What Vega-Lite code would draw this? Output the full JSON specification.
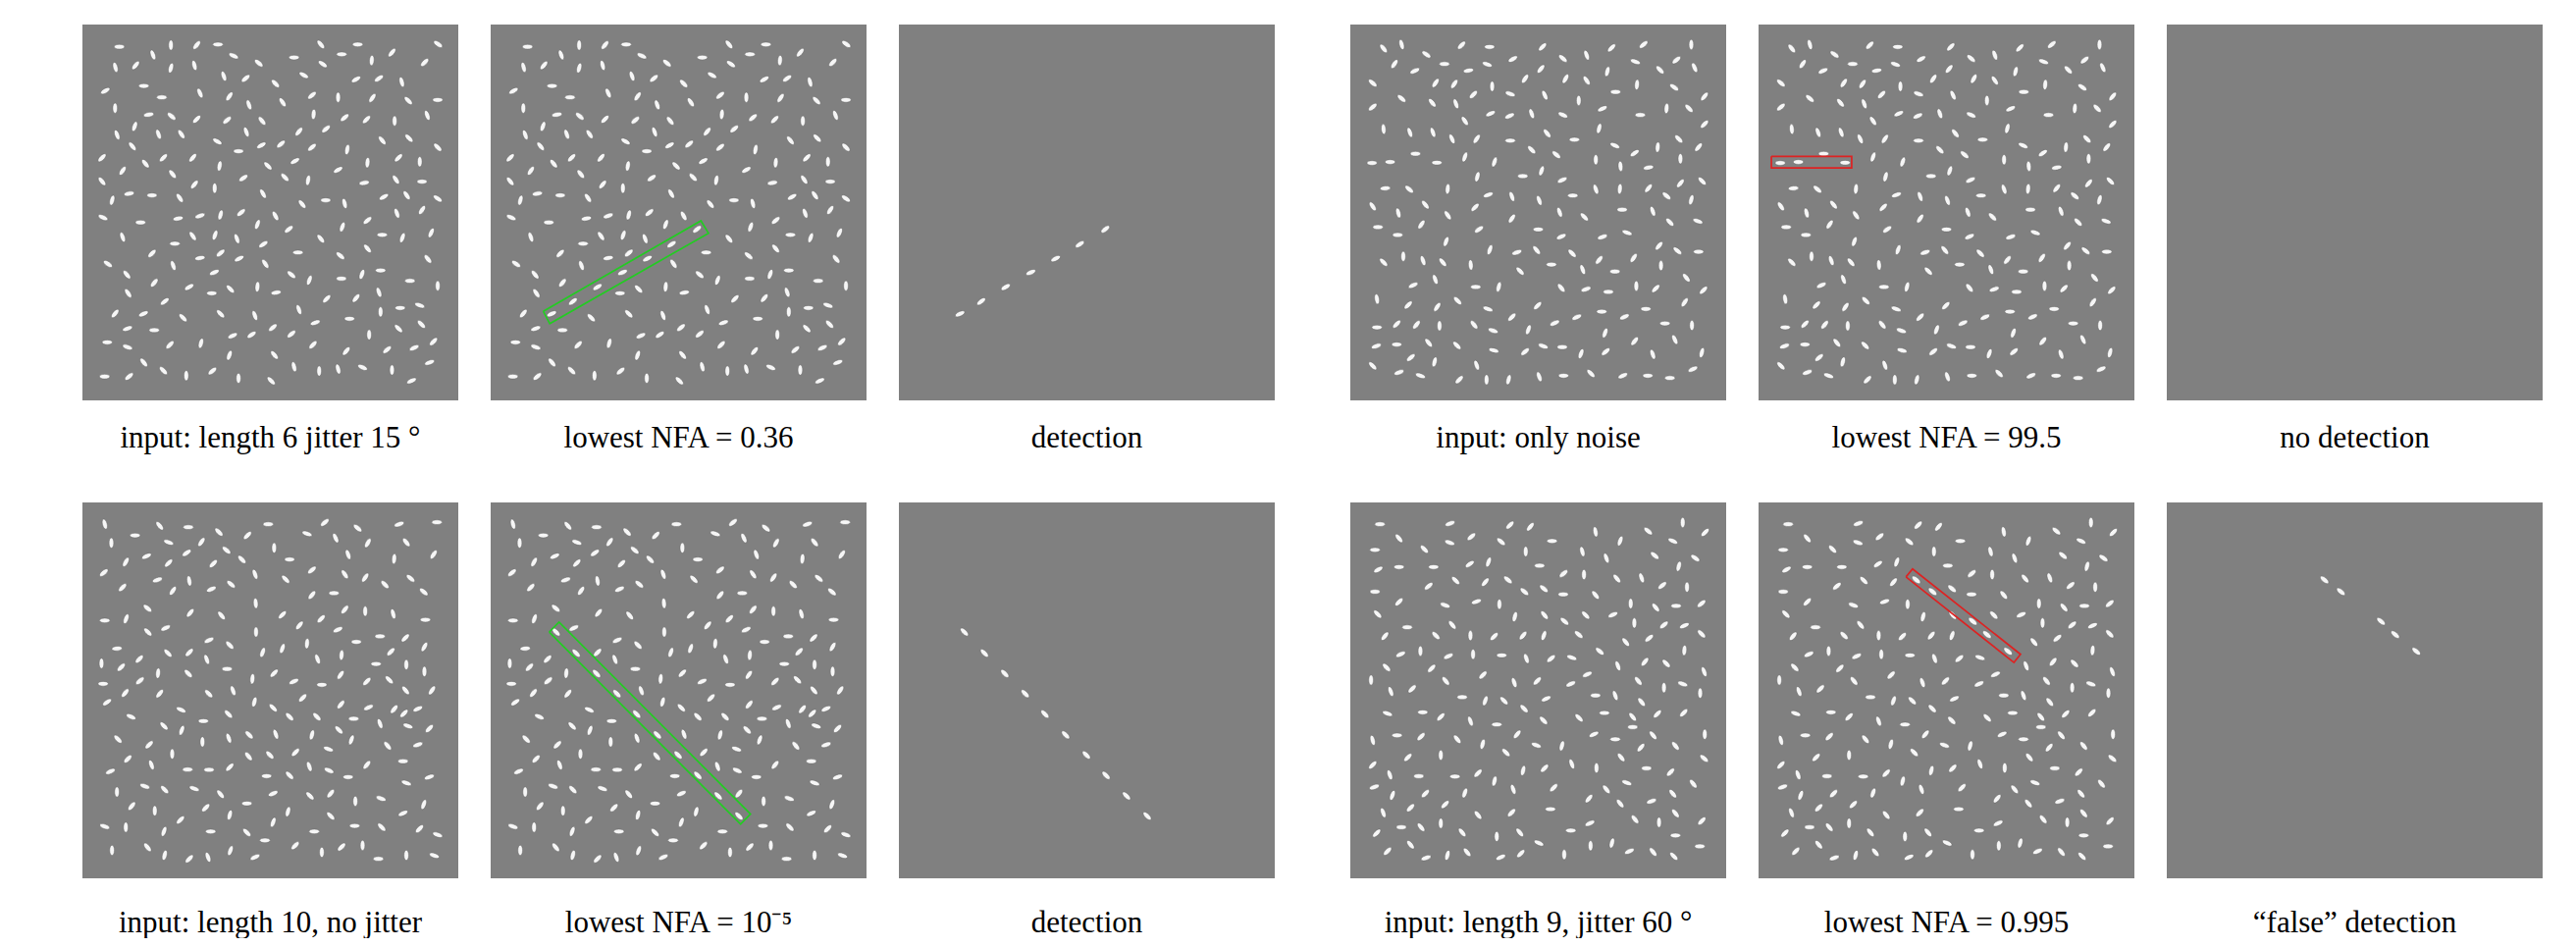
{
  "$schema": "https://vega.github.io/schema/vega-lite/v6.json",
  "padding": {"left": 84, "top": 25, "right": 0, "bottom": 0},
  "background": "white",
  "config": {
    "view": {"stroke": null, "fill": "#808080"},
    "title": {"font": "Liberation Serif", "fontSize": 31, "fontWeight": "normal", "color": "#000000", "orient": "bottom", "anchor": "middle", "baseline": "alphabetic", "offset": 24}
  },
  "datasets": {
    "A": [
      {"x":125,"y":80,"a":90},{"x":283,"y":75,"a":0},{"x":362,"y":75,"a":40},{"x":427,"y":73,"a":90},{"x":742,"y":73,"a":-40},{"x":855,"y":73,"a":90},{"x":1101,"y":72,"a":-55},
      {"x":228,"y":105,"a":-20},{"x":475,"y":108,"a":-65},{"x":660,"y":113,"a":90},{"x":806,"y":103,"a":90},{"x":960,"y":98,"a":40},{"x":898,"y":122,"a":5},
      {"x":113,"y":143,"a":-15},{"x":175,"y":137,"a":40},{"x":283,"y":145,"a":15},{"x":355,"y":137,"a":-15},{"x":552,"y":130,"a":-50},{"x":748,"y":133,"a":-55},{"x":1060,"y":128,"a":45},
      {"x":445,"y":170,"a":-20},{"x":512,"y":177,"a":50},{"x":690,"y":167,"a":-60},{"x":603,"y":193,"a":-45},{"x":850,"y":180,"a":60},{"x":920,"y":177,"a":55},{"x":990,"y":188,"a":-15},{"x":200,"y":200,"a":90},
      {"x":82,"y":215,"a":60},{"x":255,"y":235,"a":90},{"x":372,"y":222,"a":-25},{"x":462,"y":232,"a":35},{"x":522,"y":258,"a":-20},{"x":625,"y":250,"a":-35},{"x":715,"y":229,"a":50},{"x":795,"y":235,"a":0},{"x":900,"y":237,"a":35},{"x":1010,"y":245,"a":-45},{"x":1100,"y":243,"a":90},
      {"x":112,"y":268,"a":0},{"x":215,"y":288,"a":80},{"x":285,"y":293,"a":-50},{"x":362,"y":302,"a":45},{"x":455,"y":305,"a":50},{"x":562,"y":307,"a":-40},{"x":720,"y":287,"a":5},{"x":815,"y":297,"a":50},{"x":882,"y":303,"a":45},{"x":968,"y":307,"a":0},{"x":1068,"y":290,"a":-20},
      {"x":172,"y":324,"a":20},{"x":118,"y":350,"a":-20},{"x":245,"y":348,"a":-20},{"x":315,"y":348,"a":-35},{"x":514,"y":341,"a":-20},{"x":675,"y":340,"a":40},{"x":758,"y":332,"a":50},{"x":930,"y":367,"a":-40},{"x":1012,"y":360,"a":-45},
      {"x":165,"y":385,"a":-40},{"x":425,"y":370,"a":-60},{"x":490,"y":400,"a":90},{"x":560,"y":382,"a":60},{"x":620,"y":378,"a":50},{"x":715,"y":388,"a":50},{"x":823,"y":395,"a":10},{"x":1100,"y":388,"a":-45},
      {"x":72,"y":420,"a":45},{"x":205,"y":438,"a":-40},{"x":260,"y":420,"a":45},{"x":350,"y":420,"a":40},{"x":432,"y":445,"a":10},{"x":580,"y":445,"a":-45},{"x":663,"y":430,"a":60},{"x":885,"y":435,"a":5},{"x":980,"y":420,"a":45},{"x":1045,"y":432,"a":0},{"x":135,"y":460,"a":35},{"x":288,"y":470,"a":-40},{"x":795,"y":457,"a":60},
      {"x":72,"y":492,"a":-40},{"x":505,"y":482,"a":55},{"x":632,"y":480,"a":-45},{"x":703,"y":489,"a":10},{"x":875,"y":497,"a":80},{"x":972,"y":487,"a":-35},{"x":1052,"y":493,"a":90},{"x":355,"y":502,"a":40},{"x":417,"y":513,"a":0},
      {"x":155,"y":530,"a":80},{"x":225,"y":535,"a":90},{"x":103,"y":550,"a":15},{"x":310,"y":543,"a":-35},{"x":565,"y":530,"a":-30},{"x":685,"y":562,"a":-40},{"x":757,"y":550,"a":90},{"x":815,"y":560,"a":-15},{"x":935,"y":540,"a":60},{"x":1005,"y":535,"a":-35},{"x":1100,"y":545,"a":-55},
      {"x":75,"y":603,"a":-65},{"x":190,"y":618,"a":90},{"x":305,"y":606,"a":80},{"x":372,"y":598,"a":70},{"x":435,"y":595,"a":15},{"x":498,"y":588,"a":50},{"x":548,"y":624,"a":20},{"x":603,"y":598,"a":-30},{"x":975,"y":590,"a":-20},{"x":1052,"y":580,"a":35},{"x":885,"y":612,"a":50},{"x":808,"y":632,"a":20},
      {"x":135,"y":663,"a":-20},{"x":295,"y":683,"a":90},{"x":350,"y":660,"a":-35},{"x":418,"y":657,"a":20},{"x":485,"y":668,"a":-20},{"x":742,"y":668,"a":-40},{"x":930,"y":656,"a":90},{"x":992,"y":665,"a":20},{"x":1080,"y":650,"a":25},{"x":885,"y":698,"a":-40},
      {"x":225,"y":713,"a":45},{"x":90,"y":745,"a":-55},{"x":372,"y":727,"a":80},{"x":435,"y":712,"a":50},{"x":572,"y":745,"a":-35},{"x":672,"y":710,"a":90},{"x":802,"y":720,"a":-50},{"x":1070,"y":730,"a":-40},{"x":290,"y":750,"a":-20},
      {"x":148,"y":778,"a":-40},{"x":232,"y":803,"a":40},{"x":652,"y":778,"a":-50},{"x":707,"y":795,"a":20},{"x":805,"y":790,"a":90},{"x":868,"y":777,"a":20},{"x":925,"y":765,"a":90},{"x":1015,"y":797,"a":90},{"x":1100,"y":812,"a":0},
      {"x":152,"y":835,"a":-35},{"x":408,"y":835,"a":90},{"x":465,"y":822,"a":-45},{"x":548,"y":815,"a":5},{"x":605,"y":833,"a":80},{"x":760,"y":852,"a":45},{"x":850,"y":850,"a":40},{"x":920,"y":832,"a":-20},
      {"x":112,"y":897,"a":40},{"x":320,"y":910,"a":-45},{"x":435,"y":898,"a":-45},{"x":540,"y":903,"a":-20},{"x":675,"y":885,"a":-20},{"x":725,"y":925,"a":70},{"x":830,"y":913,"a":90},{"x":925,"y":892,"a":0},{"x":985,"y":880,"a":90},{"x":1045,"y":872,"a":-70},
      {"x":150,"y":943,"a":70},{"x":232,"y":948,"a":90},{"x":472,"y":965,"a":65},{"x":530,"y":962,"a":55},{"x":595,"y":940,"a":50},{"x":652,"y":960,"a":50},{"x":890,"y":962,"a":0},{"x":980,"y":943,"a":-45},{"x":1050,"y":930,"a":-45},
      {"x":88,"y":985,"a":90},{"x":150,"y":1000,"a":-70},{"x":280,"y":993,"a":45},{"x":375,"y":988,"a":15},{"x":718,"y":993,"a":45},{"x":600,"y":1024,"a":-40},{"x":820,"y":1012,"a":40},{"x":945,"y":1008,"a":50},{"x":1028,"y":1002,"a":65},{"x":1087,"y":983,"a":45},{"x":462,"y":1025,"a":20},
      {"x":200,"y":1047,"a":-40},{"x":260,"y":1072,"a":-45},{"x":330,"y":1087,"a":0},{"x":410,"y":1073,"a":50},{"x":490,"y":1095,"a":0},{"x":590,"y":1103,"a":-45},{"x":660,"y":1060,"a":-15},{"x":737,"y":1073,"a":0},{"x":795,"y":1067,"a":-15},{"x":870,"y":1062,"a":-65},{"x":960,"y":1070,"a":0},{"x":1075,"y":1047,"a":70},{"x":1020,"y":1103,"a":65},{"x":155,"y":1090,"a":50},{"x":80,"y":1090,"a":90},
      {"x":199,"y":898,"a":65,"on":1},{"x":264,"y":860,"a":52,"on":1},{"x":339,"y":816,"a":58,"on":1},{"x":416,"y":771,"a":66,"on":1},{"x":492,"y":729,"a":62,"on":1},{"x":566,"y":685,"a":56,"on":1},{"x":644,"y":639,"a":52,"on":1}
    ],
    "B": [
      {"x":125,"y":90,"a":-40},{"x":180,"y":78,"a":-15},{"x":362,"y":80,"a":45},{"x":447,"y":85,"a":90},{"x":608,"y":85,"a":45},{"x":742,"y":110,"a":-20},{"x":818,"y":88,"a":45},{"x":915,"y":78,"a":50},{"x":1060,"y":78,"a":0},
      {"x":255,"y":108,"a":-55},{"x":158,"y":137,"a":35},{"x":220,"y":158,"a":65},{"x":310,"y":137,"a":90},{"x":383,"y":157,"a":80},{"x":440,"y":138,"a":-70},{"x":518,"y":122,"a":60},{"x":603,"y":152,"a":40},{"x":670,"y":120,"a":-50},{"x":805,"y":160,"a":15},{"x":890,"y":130,"a":-70},{"x":965,"y":155,"a":-45},{"x":1015,"y":125,"a":50},{"x":1070,"y":148,"a":-25},
      {"x":92,"y":195,"a":-50},{"x":283,"y":195,"a":35},{"x":340,"y":198,"a":35},{"x":455,"y":205,"a":0},{"x":555,"y":182,"a":35},{"x":678,"y":182,"a":30},{"x":742,"y":187,"a":-35},{"x":895,"y":200,"a":5},{"x":1008,"y":208,"a":-55},{"x":830,"y":222,"a":90},{"x":180,"y":242,"a":-50},{"x":273,"y":255,"a":-40},{"x":345,"y":258,"a":-20},{"x":398,"y":230,"a":45},{"x":510,"y":228,"a":-70},{"x":615,"y":232,"a":-25},{"x":718,"y":248,"a":0},{"x":1100,"y":236,"a":40},
      {"x":92,"y":268,"a":50},{"x":450,"y":288,"a":65},{"x":508,"y":295,"a":65},{"x":575,"y":288,"a":-20},{"x":670,"y":292,"a":-65},{"x":790,"y":273,"a":65},{"x":905,"y":292,"a":90},{"x":985,"y":272,"a":5},{"x":1053,"y":272,"a":-45},
      {"x":372,"y":310,"a":-35},{"x":125,"y":335,"a":-5},{"x":205,"y":345,"a":-20},{"x":275,"y":345,"a":-20},{"x":333,"y":365,"a":-25},{"x":408,"y":365,"a":35},{"x":510,"y":370,"a":90},{"x":622,"y":348,"a":-40},{"x":705,"y":367,"a":90},{"x":780,"y":333,"a":15},{"x":1100,"y":320,"a":45},{"x":1022,"y":365,"a":-45},
      {"x":222,"y":410,"a":90},{"x":575,"y":398,"a":-45},{"x":650,"y":413,"a":-50},{"x":828,"y":385,"a":-65},{"x":888,"y":408,"a":55},{"x":958,"y":390,"a":5},{"x":1082,"y":390,"a":40},{"x":372,"y":420,"a":20},{"x":462,"y":435,"a":20},{"x":770,"y":428,"a":0},{"x":845,"y":448,"a":-5},{"x":1027,"y":425,"a":0},{"x":930,"y":452,"a":80},
      {"x":90,"y":438,"a":90},{"x":145,"y":435,"a":90},{"x":287,"y":437,"a":90},
      {"x":410,"y":480,"a":15},{"x":548,"y":478,"a":90},{"x":605,"y":462,"a":20},{"x":668,"y":490,"a":65},{"x":130,"y":515,"a":85},{"x":203,"y":518,"a":-50},{"x":320,"y":517,"a":5},{"x":443,"y":535,"a":70},{"x":515,"y":540,"a":-20},{"x":598,"y":552,"a":-20},{"x":700,"y":537,"a":90},{"x":770,"y":518,"a":-20},{"x":843,"y":517,"a":5},{"x":930,"y":515,"a":40},{"x":985,"y":538,"a":-50},{"x":1027,"y":500,"a":40},{"x":1093,"y":493,"a":-45},
      {"x":92,"y":570,"a":-35},{"x":170,"y":590,"a":-15},{"x":252,"y":565,"a":-40},{"x":320,"y":597,"a":-35},{"x":403,"y":573,"a":45},{"x":515,"y":607,"a":35},{"x":660,"y":588,"a":-20},{"x":735,"y":602,"a":-45},{"x":850,"y":580,"a":90},{"x":943,"y":585,"a":-20},{"x":1060,"y":550,"a":15},{"x":108,"y":633,"a":90},{"x":240,"y":625,"a":35},{"x":415,"y":640,"a":55},{"x":595,"y":640,"a":90},{"x":995,"y":618,"a":-45},{"x":1080,"y":615,"a":-70},
      {"x":168,"y":657,"a":90},{"x":315,"y":677,"a":20},{"x":665,"y":662,"a":65},{"x":790,"y":663,"a":70},{"x":865,"y":650,"a":-70},{"x":962,"y":690,"a":40},{"x":448,"y":702,"a":20},{"x":530,"y":710,"a":70},{"x":590,"y":703,"a":-40},{"x":698,"y":713,"a":-45},{"x":1018,"y":705,"a":-50},{"x":1082,"y":708,"a":90},
      {"x":125,"y":740,"a":-45},{"x":185,"y":722,"a":0},{"x":245,"y":735,"a":-20},{"x":305,"y":740,"a":-40},{"x":390,"y":748,"a":-5},{"x":540,"y":767,"a":-45},{"x":635,"y":747,"a":90},{"x":730,"y":762,"a":-20},{"x":780,"y":733,"a":40},{"x":828,"y":768,"a":90},{"x":885,"y":727,"a":35},{"x":968,"y":750,"a":0},
      {"x":215,"y":810,"a":65},{"x":282,"y":792,"a":-20},{"x":405,"y":815,"a":90},{"x":475,"y":815,"a":15},{"x":665,"y":818,"a":-40},{"x":740,"y":822,"a":70},{"x":808,"y":830,"a":90},{"x":893,"y":812,"a":0},{"x":952,"y":820,"a":45},{"x":1045,"y":787,"a":-40},{"x":1097,"y":825,"a":45},{"x":105,"y":852,"a":-10},
      {"x":200,"y":870,"a":45},{"x":288,"y":876,"a":35},{"x":350,"y":857,"a":-45},{"x":442,"y":882,"a":-70},{"x":515,"y":907,"a":45},{"x":593,"y":872,"a":45},{"x":712,"y":907,"a":65},{"x":788,"y":890,"a":90},{"x":857,"y":906,"a":65},{"x":922,"y":882,"a":90},{"x":1040,"y":862,"a":35},
      {"x":105,"y":938,"a":90},{"x":165,"y":928,"a":45},{"x":225,"y":930,"a":40},{"x":295,"y":933,"a":0},{"x":400,"y":930,"a":-40},{"x":458,"y":948,"a":-70},{"x":565,"y":945,"a":20},{"x":645,"y":925,"a":65},{"x":798,"y":955,"a":20},{"x":980,"y":926,"a":90},{"x":1062,"y":932,"a":0},
      {"x":103,"y":995,"a":70},{"x":165,"y":990,"a":90},{"x":262,"y":985,"a":-40},{"x":348,"y":993,"a":-45},{"x":460,"y":1008,"a":-75},{"x":555,"y":1012,"a":50},{"x":610,"y":995,"a":-70},{"x":668,"y":998,"a":90},{"x":725,"y":1018,"a":20},{"x":800,"y":1012,"a":50},{"x":888,"y":980,"a":40},{"x":1010,"y":975,"a":-25},{"x":943,"y":1020,"a":-20},{"x":1092,"y":1015,"a":15},{"x":208,"y":1030,"a":50},{"x":280,"y":1043,"a":15},
      {"x":92,"y":1055,"a":-45},{"x":172,"y":1075,"a":70},{"x":237,"y":1085,"a":-70},{"x":355,"y":1097,"a":45},{"x":408,"y":1053,"a":-20},{"x":438,"y":1097,"a":0},{"x":505,"y":1097,"a":15},{"x":598,"y":1088,"a":-20},{"x":672,"y":1085,"a":90},{"x":755,"y":1078,"a":-45},{"x":852,"y":1085,"a":65},{"x":928,"y":1085,"a":90},{"x":995,"y":1092,"a":90},{"x":1065,"y":1065,"a":65}
    ],
    "C": [
      {"x":88,"y":93,"a":-15},{"x":180,"y":127,"a":90},{"x":255,"y":98,"a":-40},{"x":342,"y":102,"a":90},{"x":435,"y":117,"a":-45},{"x":522,"y":127,"a":45},{"x":585,"y":93,"a":90},{"x":703,"y":122,"a":-70},{"x":757,"y":88,"a":50},{"x":790,"y":135,"a":-25},{"x":857,"y":105,"a":-50},{"x":983,"y":93,"a":70},{"x":1098,"y":87,"a":90},{"x":108,"y":150,"a":0},{"x":282,"y":148,"a":-70},{"x":382,"y":147,"a":35},{"x":458,"y":172,"a":-50},{"x":603,"y":165,"a":0},{"x":650,"y":200,"a":90},{"x":888,"y":150,"a":30},{"x":1005,"y":148,"a":-40},
      {"x":152,"y":208,"a":30},{"x":215,"y":190,"a":65},{"x":282,"y":211,"a":45},{"x":337,"y":180,"a":55},{"x":418,"y":213,"a":45},{"x":505,"y":200,"a":-45},{"x":828,"y":185,"a":-20},{"x":968,"y":198,"a":5},{"x":1088,"y":185,"a":35},{"x":85,"y":240,"a":50},{"x":248,"y":262,"a":70},{"x":345,"y":265,"a":-10},{"x":545,"y":245,"a":-20},{"x":638,"y":260,"a":-45},{"x":718,"y":232,"a":50},{"x":818,"y":245,"a":-35},{"x":880,"y":255,"a":35},{"x":1018,"y":257,"a":-50},
      {"x":142,"y":285,"a":45},{"x":295,"y":295,"a":35},{"x":412,"y":290,"a":65},{"x":472,"y":275,"a":-50},{"x":718,"y":308,"a":40},{"x":785,"y":302,"a":90},{"x":940,"y":276,"a":-45},{"x":1058,"y":298,"a":-50},
      {"x":218,"y":348,"a":-50},{"x":348,"y":362,"a":40},{"x":547,"y":333,"a":-5},{"x":628,"y":368,"a":45},{"x":818,"y":352,"a":40},{"x":880,"y":357,"a":0},{"x":965,"y":365,"a":-15},{"x":88,"y":385,"a":90},{"x":153,"y":380,"a":20},{"x":443,"y":370,"a":-40},{"x":680,"y":400,"a":40},{"x":746,"y":380,"a":45},{"x":1063,"y":383,"a":90},{"x":273,"y":408,"a":65},
      {"x":405,"y":445,"a":65},{"x":468,"y":460,"a":-45},{"x":548,"y":420,"a":0},{"x":797,"y":413,"a":65},{"x":853,"y":450,"a":90},{"x":925,"y":433,"a":90},{"x":1002,"y":438,"a":45},{"x":125,"y":470,"a":85},{"x":345,"y":482,"a":45},{"x":568,"y":482,"a":20},{"x":628,"y":470,"a":20},{"x":703,"y":455,"a":5},{"x":1060,"y":465,"a":30},{"x":958,"y":480,"a":45},
      {"x":78,"y":515,"a":0},{"x":138,"y":527,"a":45},{"x":193,"y":502,"a":45},{"x":250,"y":545,"a":5},{"x":398,"y":503,"a":-20},{"x":460,"y":532,"a":90},{"x":735,"y":502,"a":-20},{"x":808,"y":490,"a":5},{"x":913,"y":517,"a":90},{"x":1005,"y":519,"a":0},{"x":1060,"y":540,"a":0},{"x":603,"y":545,"a":45},
      {"x":83,"y":577,"a":90},{"x":195,"y":568,"a":50},{"x":537,"y":562,"a":5},{"x":663,"y":570,"a":65},{"x":748,"y":580,"a":90},{"x":805,"y":550,"a":35},{"x":885,"y":570,"a":45},{"x":953,"y":565,"a":-45},{"x":150,"y":605,"a":40},{"x":255,"y":607,"a":40},{"x":478,"y":598,"a":-20},{"x":690,"y":620,"a":45},{"x":1003,"y":597,"a":-40},{"x":1083,"y":597,"a":35},
      {"x":95,"y":633,"a":55},{"x":320,"y":656,"a":-65},{"x":543,"y":632,"a":15},{"x":600,"y":650,"a":-45},{"x":806,"y":640,"a":40},{"x":890,"y":649,"a":65},{"x":968,"y":654,"a":40},{"x":1040,"y":653,"a":65},{"x":168,"y":677,"a":-65},{"x":388,"y":690,"a":90},{"x":650,"y":677,"a":-45},{"x":733,"y":677,"a":-45},{"x":845,"y":683,"a":90},{"x":925,"y":698,"a":-20},{"x":998,"y":667,"a":45},
      {"x":268,"y":705,"a":-45},{"x":322,"y":718,"a":20},{"x":608,"y":730,"a":-20},{"x":718,"y":732,"a":15},{"x":800,"y":717,"a":-45},{"x":1010,"y":705,"a":-70},{"x":1075,"y":713,"a":45},{"x":128,"y":745,"a":-45},{"x":223,"y":762,"a":45},{"x":385,"y":753,"a":0},{"x":465,"y":742,"a":-20},{"x":838,"y":747,"a":20},{"x":948,"y":765,"a":-40},{"x":1040,"y":762,"a":70},
      {"x":293,"y":790,"a":0},{"x":158,"y":805,"a":45},{"x":230,"y":823,"a":-20},{"x":525,"y":797,"a":-40},{"x":668,"y":785,"a":45},{"x":768,"y":775,"a":-70},{"x":995,"y":812,"a":90},{"x":105,"y":843,"a":65},{"x":340,"y":837,"a":90},{"x":405,"y":838,"a":90},{"x":468,"y":830,"a":45},{"x":580,"y":857,"a":90},{"x":710,"y":828,"a":-20},{"x":770,"y":840,"a":-65},{"x":828,"y":860,"a":90},{"x":885,"y":823,"a":40},{"x":1075,"y":860,"a":70},
      {"x":125,"y":905,"a":0},{"x":210,"y":888,"a":-70},{"x":270,"y":898,"a":-45},{"x":360,"y":895,"a":-70},{"x":440,"y":912,"a":-40},{"x":600,"y":910,"a":65},{"x":775,"y":910,"a":40},{"x":1005,"y":878,"a":-70},{"x":850,"y":933,"a":0},{"x":928,"y":925,"a":-70},
      {"x":170,"y":948,"a":40},{"x":240,"y":962,"a":0},{"x":395,"y":953,"a":45},{"x":468,"y":975,"a":15},{"x":520,"y":940,"a":90},{"x":645,"y":965,"a":15},{"x":1058,"y":943,"a":20},{"x":995,"y":970,"a":65},
      {"x":88,"y":1010,"a":-70},{"x":152,"y":1012,"a":0},{"x":268,"y":1025,"a":20},{"x":318,"y":990,"a":45},{"x":410,"y":1025,"a":90},{"x":520,"y":1028,"a":-45},{"x":600,"y":997,"a":20},{"x":575,"y":1052,"a":90},{"x":725,"y":1025,"a":90},{"x":848,"y":1008,"a":90},{"x":930,"y":1012,"a":-45},{"x":1045,"y":1017,"a":45},{"x":1100,"y":1035,"a":-70},
      {"x":110,"y":1082,"a":0},{"x":218,"y":1073,"a":-40},{"x":270,"y":1097,"a":15},{"x":345,"y":1108,"a":45},{"x":402,"y":1103,"a":-20},{"x":470,"y":1083,"a":20},{"x":545,"y":1103,"a":65},{"x":667,"y":1068,"a":45},{"x":748,"y":1088,"a":0},{"x":808,"y":1072,"a":45},{"x":872,"y":1067,"a":0},{"x":920,"y":1108,"a":90},{"x":1005,"y":1097,"a":0},{"x":1090,"y":1098,"a":-70},
      {"x":219,"y":420,"a":-45,"on":1},{"x":280,"y":484,"a":-45,"on":1},{"x":342,"y":546,"a":-45,"on":1},{"x":404,"y":607,"a":-45,"on":1},{"x":464,"y":669,"a":-45,"on":1},{"x":527,"y":732,"a":-45,"on":1},{"x":590,"y":793,"a":-45,"on":1},{"x":650,"y":855,"a":-45,"on":1},{"x":712,"y":917,"a":-45,"on":1},{"x":775,"y":978,"a":-45,"on":1}
    ],
    "D": [
      {"x":120,"y":92,"a":90},{"x":333,"y":90,"a":70},{"x":515,"y":95,"a":45},{"x":577,"y":100,"a":40},{"x":775,"y":115,"a":-10},{"x":935,"y":113,"a":-50},{"x":1040,"y":87,"a":0},{"x":1108,"y":117,"a":45},{"x":178,"y":135,"a":-40},{"x":332,"y":148,"a":-70},{"x":398,"y":130,"a":50},{"x":488,"y":145,"a":-50},{"x":643,"y":143,"a":90},{"x":850,"y":143,"a":20},{"x":1010,"y":143,"a":-65},
      {"x":105,"y":170,"a":90},{"x":255,"y":168,"a":-45},{"x":563,"y":175,"a":0},{"x":735,"y":175,"a":-15},{"x":808,"y":195,"a":-20},{"x":955,"y":187,"a":-50},{"x":1078,"y":195,"a":-55},{"x":115,"y":230,"a":60},{"x":178,"y":222,"a":90},{"x":283,"y":222,"a":90},{"x":393,"y":213,"a":55},{"x":450,"y":207,"a":20},{"x":605,"y":218,"a":90},{"x":678,"y":242,"a":50},{"x":740,"y":245,"a":0},{"x":915,"y":255,"a":-20},{"x":1028,"y":220,"a":15},{"x":840,"y":257,"a":-40},
      {"x":268,"y":280,"a":50},{"x":350,"y":263,"a":-45},{"x":440,"y":268,"a":40},{"x":618,"y":288,"a":-50},{"x":677,"y":305,"a":90},{"x":775,"y":307,"a":-40},{"x":978,"y":278,"a":50},{"x":1053,"y":283,"a":0},{"x":105,"y":297,"a":90},
      {"x":178,"y":328,"a":45},{"x":318,"y":338,"a":-70},{"x":413,"y":327,"a":70},{"x":483,"y":335,"a":0},{"x":530,"y":373,"a":15},{"x":620,"y":368,"a":-40},{"x":745,"y":368,"a":-45},{"x":828,"y":367,"a":65},{"x":882,"y":333,"a":0},{"x":958,"y":345,"a":-40},{"x":1020,"y":340,"a":90},{"x":1097,"y":333,"a":50},{"x":113,"y":365,"a":-45},
      {"x":203,"y":405,"a":90},{"x":340,"y":398,"a":-40},{"x":395,"y":430,"a":0},{"x":467,"y":433,"a":45},{"x":555,"y":430,"a":40},{"x":618,"y":430,"a":20},{"x":893,"y":392,"a":0},{"x":983,"y":398,"a":50},{"x":1045,"y":400,"a":65},{"x":135,"y":432,"a":40},{"x":290,"y":430,"a":-45},{"x":1097,"y":425,"a":-45},{"x":867,"y":450,"a":-40},{"x":938,"y":438,"a":50},
      {"x":183,"y":487,"a":65},{"x":243,"y":477,"a":0},{"x":328,"y":493,"a":65},{"x":403,"y":487,"a":0},{"x":490,"y":490,"a":90},{"x":565,"y":500,"a":-20},{"x":640,"y":500,"a":50},{"x":703,"y":497,"a":-70},{"x":843,"y":522,"a":-20},{"x":925,"y":510,"a":40},{"x":990,"y":515,"a":-45},{"x":1045,"y":475,"a":5},{"x":140,"y":527,"a":-45},{"x":277,"y":530,"a":45},
      {"x":93,"y":565,"a":0},{"x":320,"y":568,"a":-40},{"x":433,"y":550,"a":45},{"x":528,"y":573,"a":-20},{"x":598,"y":568,"a":45},{"x":700,"y":577,"a":65},{"x":750,"y":548,"a":65},{"x":905,"y":568,"a":-40},{"x":983,"y":588,"a":0},{"x":1040,"y":577,"a":-70},{"x":1105,"y":540,"a":-20},{"x":153,"y":600,"a":-20},{"x":218,"y":592,"a":45},{"x":370,"y":617,"a":90},{"x":440,"y":628,"a":20},{"x":497,"y":628,"a":-45},{"x":625,"y":622,"a":65},{"x":775,"y":612,"a":90},{"x":835,"y":612,"a":-20},{"x":915,"y":632,"a":-40},{"x":1093,"y":605,"a":0},
      {"x":143,"y":667,"a":-70},{"x":250,"y":663,"a":90},{"x":305,"y":677,"a":45},{"x":395,"y":690,"a":-20},{"x":475,"y":700,"a":90},{"x":558,"y":652,"a":-45},{"x":617,"y":688,"a":-45},{"x":725,"y":680,"a":-45},{"x":802,"y":665,"a":90},{"x":888,"y":677,"a":-40},{"x":963,"y":668,"a":45},{"x":1043,"y":665,"a":45},
      {"x":98,"y":748,"a":-15},{"x":172,"y":733,"a":90},{"x":245,"y":737,"a":45},{"x":355,"y":745,"a":-40},{"x":432,"y":760,"a":15},{"x":537,"y":730,"a":40},{"x":595,"y":763,"a":-70},{"x":673,"y":765,"a":15},{"x":770,"y":730,"a":65},{"x":835,"y":745,"a":90},{"x":888,"y":708,"a":90},{"x":950,"y":733,"a":-40},{"x":1018,"y":765,"a":-40},{"x":1107,"y":730,"a":0},{"x":305,"y":793,"a":0},
      {"x":205,"y":800,"a":45},{"x":503,"y":785,"a":-45},{"x":913,"y":770,"a":40},{"x":98,"y":823,"a":45},{"x":150,"y":853,"a":-20},{"x":238,"y":857,"a":90},{"x":348,"y":858,"a":90},{"x":418,"y":848,"a":45},{"x":468,"y":872,"a":15},{"x":555,"y":840,"a":15},{"x":620,"y":833,"a":45},{"x":703,"y":820,"a":-20},{"x":778,"y":832,"a":0},{"x":853,"y":800,"a":-40},{"x":930,"y":833,"a":90},{"x":1003,"y":845,"a":45},{"x":1105,"y":803,"a":-50},
      {"x":103,"y":890,"a":70},{"x":158,"y":915,"a":20},{"x":258,"y":910,"a":45},{"x":378,"y":908,"a":20},{"x":525,"y":897,"a":-20},{"x":648,"y":892,"a":45},{"x":808,"y":897,"a":-40},{"x":870,"y":877,"a":-70},{"x":1072,"y":880,"a":-40},{"x":1010,"y":910,"a":-40},{"x":318,"y":943,"a":45},{"x":755,"y":925,"a":40},{"x":850,"y":940,"a":-40},{"x":945,"y":933,"a":70},
      {"x":130,"y":968,"a":-20},{"x":213,"y":953,"a":45},{"x":418,"y":975,"a":-40},{"x":520,"y":968,"a":45},{"x":638,"y":957,"a":90},{"x":758,"y":1000,"a":65},{"x":895,"y":988,"a":-40},{"x":968,"y":997,"a":0},{"x":1018,"y":970,"a":-40},{"x":1098,"y":993,"a":45},{"x":305,"y":1000,"a":0},
      {"x":110,"y":1030,"a":45},{"x":185,"y":1012,"a":90},{"x":245,"y":1012,"a":-40},{"x":370,"y":1028,"a":-40},{"x":475,"y":1040,"a":0},{"x":545,"y":1028,"a":-40},{"x":700,"y":1022,"a":90},{"x":825,"y":1060,"a":15},{"x":760,"y":1068,"a":0},{"x":1018,"y":1037,"a":90},{"x":603,"y":1060,"a":-65},
      {"x":143,"y":1085,"a":45},{"x":213,"y":1065,"a":-40},{"x":260,"y":1105,"a":70},{"x":325,"y":1097,"a":15},{"x":385,"y":1088,"a":-40},{"x":487,"y":1103,"a":65},{"x":548,"y":1092,"a":45},{"x":680,"y":1095,"a":0},{"x":878,"y":1085,"a":65},{"x":950,"y":1087,"a":-40},{"x":1013,"y":1100,"a":-45},{"x":1092,"y":1070,"a":90},
      {"x":509,"y":261,"a":-50,"on":1},{"x":559,"y":297,"a":-50,"on":1},{"x":681,"y":387,"a":-50,"on":1},{"x":724,"y":427,"a":-50,"on":1},{"x":788,"y":478,"a":-50,"on":1}
    ],
    "boxA": [{"x":173,"y":890,"o":0},{"x":193,"y":928,"o":1},{"x":679,"y":651,"o":2},{"x":656,"y":613,"o":3},{"x":173,"y":890,"o":4}],
    "boxB": [{"x":63,"y":418,"o":0},{"x":307,"y":418,"o":1},{"x":307,"y":453,"o":2},{"x":63,"y":453,"o":3},{"x":63,"y":418,"o":4}],
    "boxC": [{"x":198,"y":420,"o":0},{"x":228,"y":390,"o":1},{"x":810,"y":972,"o":2},{"x":780,"y":1003,"o":3},{"x":198,"y":420,"o":4}],
    "boxD": [{"x":478,"y":252,"o":0},{"x":498,"y":228,"o":1},{"x":826,"y":487,"o":2},{"x":806,"y":512,"o":3},{"x":478,"y":252,"o":4}],
    "none": []
  },
  "spacing": 50,
  "vconcat": [
    {
      "spacing": 77,
      "hconcat": [
        {
          "spacing": 33,
          "hconcat": [
            {
              "width": 383, "height": 383,
              "title": {"text": "input: length 6 jitter 15 °"},
              "data": {"name": "A"},
              "mark": {"type": "point", "shape": "M0,-1C0.6,-1 0.6,1 0,1C-0.6,1 -0.6,-1 0,-1Z", "size": 110, "filled": true, "fill": "#f6f6f6", "fillOpacity": 1, "opacity": 1, "stroke": "#666666", "strokeWidth": 0.8, "strokeOpacity": 0.6},
              "encoding": {
                "x": {"field": "x", "type": "quantitative", "scale": {"domain": [12, 1163], "nice": false, "zero": false}, "axis": null},
                "y": {"field": "y", "type": "quantitative", "scale": {"domain": [12, 1163], "nice": false, "zero": false, "reverse": true}, "axis": null},
                "angle": {"field": "a", "type": "quantitative", "scale": null}
              }
            },
            {
              "width": 383, "height": 383,
              "title": {"text": "lowest NFA = 0.36"},
              "layer": [
                {
                  "data": {"name": "A"},
                  "mark": {"type": "point", "shape": "M0,-1C0.6,-1 0.6,1 0,1C-0.6,1 -0.6,-1 0,-1Z", "size": 110, "filled": true, "fill": "#f6f6f6", "fillOpacity": 1, "opacity": 1, "stroke": "#666666", "strokeWidth": 0.8, "strokeOpacity": 0.6},
                  "encoding": {
                    "x": {"field": "x", "type": "quantitative", "scale": {"domain": [12, 1163], "nice": false, "zero": false}, "axis": null},
                    "y": {"field": "y", "type": "quantitative", "scale": {"domain": [12, 1163], "nice": false, "zero": false, "reverse": true}, "axis": null},
                    "angle": {"field": "a", "type": "quantitative", "scale": null}
                  }
                },
                {
                  "data": {"name": "boxA"},
                  "mark": {"type": "line", "color": "#22cc22", "strokeWidth": 1.7},
                  "encoding": {
                    "x": {"field": "x", "type": "quantitative", "scale": {"domain": [12, 1163], "nice": false, "zero": false}, "axis": null},
                    "y": {"field": "y", "type": "quantitative", "scale": {"domain": [12, 1163], "nice": false, "zero": false, "reverse": true}, "axis": null},
                    "order": {"field": "o", "type": "quantitative"}
                  }
                }
              ]
            },
            {
              "width": 383, "height": 383,
              "title": {"text": "detection"},
              "data": {"name": "A"},
              "transform": [{"filter": "datum.on === 1"}],
              "mark": {"type": "point", "shape": "M0,-1C0.6,-1 0.6,1 0,1C-0.6,1 -0.6,-1 0,-1Z", "size": 110, "filled": true, "fill": "#f6f6f6", "fillOpacity": 1, "opacity": 1, "stroke": "#666666", "strokeWidth": 0.8, "strokeOpacity": 0.6},
              "encoding": {
                "x": {"field": "x", "type": "quantitative", "scale": {"domain": [12, 1163], "nice": false, "zero": false}, "axis": null},
                "y": {"field": "y", "type": "quantitative", "scale": {"domain": [12, 1163], "nice": false, "zero": false, "reverse": true}, "axis": null},
                "angle": {"field": "a", "type": "quantitative", "scale": null}
              }
            }
          ]
        },
        {
          "spacing": 33,
          "hconcat": [
            {
              "width": 383, "height": 383,
              "title": {"text": "input: only noise"},
              "data": {"name": "B"},
              "mark": {"type": "point", "shape": "M0,-1C0.6,-1 0.6,1 0,1C-0.6,1 -0.6,-1 0,-1Z", "size": 110, "filled": true, "fill": "#f6f6f6", "fillOpacity": 1, "opacity": 1, "stroke": "#666666", "strokeWidth": 0.8, "strokeOpacity": 0.6},
              "encoding": {
                "x": {"field": "x", "type": "quantitative", "scale": {"domain": [24, 1166], "nice": false, "zero": false}, "axis": null},
                "y": {"field": "y", "type": "quantitative", "scale": {"domain": [17, 1160], "nice": false, "zero": false, "reverse": true}, "axis": null},
                "angle": {"field": "a", "type": "quantitative", "scale": null}
              }
            },
            {
              "width": 383, "height": 383,
              "title": {"text": "lowest NFA = 99.5"},
              "layer": [
                {
                  "data": {"name": "B"},
                  "mark": {"type": "point", "shape": "M0,-1C0.6,-1 0.6,1 0,1C-0.6,1 -0.6,-1 0,-1Z", "size": 110, "filled": true, "fill": "#f6f6f6", "fillOpacity": 1, "opacity": 1, "stroke": "#666666", "strokeWidth": 0.8, "strokeOpacity": 0.6},
                  "encoding": {
                    "x": {"field": "x", "type": "quantitative", "scale": {"domain": [24, 1166], "nice": false, "zero": false}, "axis": null},
                    "y": {"field": "y", "type": "quantitative", "scale": {"domain": [17, 1160], "nice": false, "zero": false, "reverse": true}, "axis": null},
                    "angle": {"field": "a", "type": "quantitative", "scale": null}
                  }
                },
                {
                  "data": {"name": "boxB"},
                  "mark": {"type": "line", "color": "#dd2222", "strokeWidth": 1.7},
                  "encoding": {
                    "x": {"field": "x", "type": "quantitative", "scale": {"domain": [24, 1166], "nice": false, "zero": false}, "axis": null},
                    "y": {"field": "y", "type": "quantitative", "scale": {"domain": [17, 1160], "nice": false, "zero": false, "reverse": true}, "axis": null},
                    "order": {"field": "o", "type": "quantitative"}
                  }
                }
              ]
            },
            {
              "width": 383, "height": 383,
              "title": {"text": "no detection"},
              "data": {"name": "none"},
              "mark": {"type": "point", "opacity": 0},
              "encoding": {
                "x": {"field": "x", "type": "quantitative", "scale": {"domain": [0, 1], "nice": false, "zero": false}, "axis": null},
                "y": {"field": "y", "type": "quantitative", "scale": {"domain": [0, 1], "nice": false, "zero": false}, "axis": null}
              }
            }
          ]
        }
      ]
    },
    {
      "spacing": 77,
      "hconcat": [
        {
          "spacing": 33,
          "hconcat": [
            {
              "width": 383, "height": 383,
              "title": {"text": "input: length 10, no jitter", "offset": 31},
              "data": {"name": "C"},
              "mark": {"type": "point", "shape": "M0,-1C0.6,-1 0.6,1 0,1C-0.6,1 -0.6,-1 0,-1Z", "size": 110, "filled": true, "fill": "#f6f6f6", "fillOpacity": 1, "opacity": 1, "stroke": "#666666", "strokeWidth": 0.8, "strokeOpacity": 0.6},
              "encoding": {
                "x": {"field": "x", "type": "quantitative", "scale": {"domain": [20, 1163], "nice": false, "zero": false}, "axis": null},
                "y": {"field": "y", "type": "quantitative", "scale": {"domain": [27, 1167], "nice": false, "zero": false, "reverse": true}, "axis": null},
                "angle": {"field": "a", "type": "quantitative", "scale": null}
              }
            },
            {
              "width": 383, "height": 383,
              "title": {"text": "lowest NFA = 10⁻⁵", "offset": 31},
              "layer": [
                {
                  "data": {"name": "C"},
                  "mark": {"type": "point", "shape": "M0,-1C0.6,-1 0.6,1 0,1C-0.6,1 -0.6,-1 0,-1Z", "size": 110, "filled": true, "fill": "#f6f6f6", "fillOpacity": 1, "opacity": 1, "stroke": "#666666", "strokeWidth": 0.8, "strokeOpacity": 0.6},
                  "encoding": {
                    "x": {"field": "x", "type": "quantitative", "scale": {"domain": [20, 1163], "nice": false, "zero": false}, "axis": null},
                    "y": {"field": "y", "type": "quantitative", "scale": {"domain": [27, 1167], "nice": false, "zero": false, "reverse": true}, "axis": null},
                    "angle": {"field": "a", "type": "quantitative", "scale": null}
                  }
                },
                {
                  "data": {"name": "boxC"},
                  "mark": {"type": "line", "color": "#22cc22", "strokeWidth": 1.7},
                  "encoding": {
                    "x": {"field": "x", "type": "quantitative", "scale": {"domain": [20, 1163], "nice": false, "zero": false}, "axis": null},
                    "y": {"field": "y", "type": "quantitative", "scale": {"domain": [27, 1167], "nice": false, "zero": false, "reverse": true}, "axis": null},
                    "order": {"field": "o", "type": "quantitative"}
                  }
                }
              ]
            },
            {
              "width": 383, "height": 383,
              "title": {"text": "detection", "offset": 31},
              "data": {"name": "C"},
              "transform": [{"filter": "datum.on === 1"}],
              "mark": {"type": "point", "shape": "M0,-1C0.6,-1 0.6,1 0,1C-0.6,1 -0.6,-1 0,-1Z", "size": 110, "filled": true, "fill": "#f6f6f6", "fillOpacity": 1, "opacity": 1, "stroke": "#666666", "strokeWidth": 0.8, "strokeOpacity": 0.6},
              "encoding": {
                "x": {"field": "x", "type": "quantitative", "scale": {"domain": [20, 1163], "nice": false, "zero": false}, "axis": null},
                "y": {"field": "y", "type": "quantitative", "scale": {"domain": [27, 1167], "nice": false, "zero": false, "reverse": true}, "axis": null},
                "angle": {"field": "a", "type": "quantitative", "scale": null}
              }
            }
          ]
        },
        {
          "spacing": 33,
          "hconcat": [
            {
              "width": 383, "height": 383,
              "title": {"text": "input: length 9, jitter 60 °", "offset": 31},
              "data": {"name": "D"},
              "mark": {"type": "point", "shape": "M0,-1C0.6,-1 0.6,1 0,1C-0.6,1 -0.6,-1 0,-1Z", "size": 110, "filled": true, "fill": "#f6f6f6", "fillOpacity": 1, "opacity": 1, "stroke": "#666666", "strokeWidth": 0.8, "strokeOpacity": 0.6},
              "encoding": {
                "x": {"field": "x", "type": "quantitative", "scale": {"domain": [30, 1172], "nice": false, "zero": false}, "axis": null},
                "y": {"field": "y", "type": "quantitative", "scale": {"domain": [26, 1167], "nice": false, "zero": false, "reverse": true}, "axis": null},
                "angle": {"field": "a", "type": "quantitative", "scale": null}
              }
            },
            {
              "width": 383, "height": 383,
              "title": {"text": "lowest NFA = 0.995", "offset": 31},
              "layer": [
                {
                  "data": {"name": "D"},
                  "mark": {"type": "point", "shape": "M0,-1C0.6,-1 0.6,1 0,1C-0.6,1 -0.6,-1 0,-1Z", "size": 110, "filled": true, "fill": "#f6f6f6", "fillOpacity": 1, "opacity": 1, "stroke": "#666666", "strokeWidth": 0.8, "strokeOpacity": 0.6},
                  "encoding": {
                    "x": {"field": "x", "type": "quantitative", "scale": {"domain": [30, 1172], "nice": false, "zero": false}, "axis": null},
                    "y": {"field": "y", "type": "quantitative", "scale": {"domain": [26, 1167], "nice": false, "zero": false, "reverse": true}, "axis": null},
                    "angle": {"field": "a", "type": "quantitative", "scale": null}
                  }
                },
                {
                  "data": {"name": "boxD"},
                  "mark": {"type": "line", "color": "#dd2222", "strokeWidth": 1.7},
                  "encoding": {
                    "x": {"field": "x", "type": "quantitative", "scale": {"domain": [30, 1172], "nice": false, "zero": false}, "axis": null},
                    "y": {"field": "y", "type": "quantitative", "scale": {"domain": [26, 1167], "nice": false, "zero": false, "reverse": true}, "axis": null},
                    "order": {"field": "o", "type": "quantitative"}
                  }
                }
              ]
            },
            {
              "width": 383, "height": 383,
              "title": {"text": "“false” detection", "offset": 31},
              "data": {"name": "D"},
              "transform": [{"filter": "datum.on === 1"}],
              "mark": {"type": "point", "shape": "M0,-1C0.6,-1 0.6,1 0,1C-0.6,1 -0.6,-1 0,-1Z", "size": 110, "filled": true, "fill": "#f6f6f6", "fillOpacity": 1, "opacity": 1, "stroke": "#666666", "strokeWidth": 0.8, "strokeOpacity": 0.6},
              "encoding": {
                "x": {"field": "x", "type": "quantitative", "scale": {"domain": [30, 1172], "nice": false, "zero": false}, "axis": null},
                "y": {"field": "y", "type": "quantitative", "scale": {"domain": [26, 1167], "nice": false, "zero": false, "reverse": true}, "axis": null},
                "angle": {"field": "a", "type": "quantitative", "scale": null}
              }
            }
          ]
        }
      ]
    }
  ]
}
